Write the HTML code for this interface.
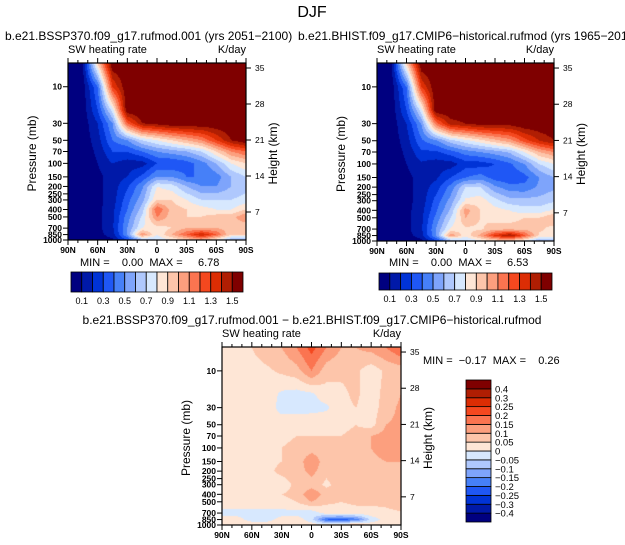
<!DOCTYPE html>
<html><head><meta charset="utf-8">
<style>
html,body{margin:0;padding:0;background:#fff;}
#root{position:relative;width:625px;height:545px;overflow:hidden;font-family:"Liberation Sans",sans-serif;}
canvas{position:absolute;}
svg{position:absolute;left:0;top:0;}
text{font-family:"Liberation Sans",sans-serif;fill:#000;}
</style></head>
<body>
<div id="root">
<canvas id="cA" width="178" height="177" style="left:68px;top:63px"></canvas>
<canvas id="cB" width="177" height="178" style="left:377px;top:63px"></canvas>
<canvas id="cD" width="179" height="178" style="left:222px;top:347px"></canvas>
<svg id="svg" width="625" height="545"></svg>
</div>
<script>
// ---- data ----
const lats = [90,75,60,45,30,15,0,-15,-30,-45,-60,-75,-90];
const levels = [5,10,20,30,50,70,100,150,200,300,400,500,700,850,1000];
const fieldFuture = [
 [0.02,0.1,0.9,1.6,1.6,1.6,1.6,1.6,1.6,1.6,1.6,1.6,1.6],
 [0.02,0.05,0.4,1.3,1.6,1.6,1.6,1.6,1.6,1.6,1.6,1.6,1.6],
 [0.02,0.04,0.3,0.75,1.6,1.6,1.6,1.6,1.6,1.6,1.6,1.6,1.6],
 [0.02,0.04,0.2,0.5,1.2,1.5,1.55,1.6,1.6,1.6,1.6,1.6,1.6],
 [0.02,0.04,0.15,0.4,0.5,0.7,0.8,0.9,1.0,1.1,1.3,1.5,1.6],
 [0.02,0.04,0.12,0.3,0.3,0.4,0.5,0.55,0.6,0.7,0.9,1.1,1.2],
 [0.02,0.04,0.1,0.2,0.15,0.15,0.3,0.3,0.35,0.45,0.6,0.8,0.9],
 [0.02,0.03,0.07,0.15,0.2,0.33,0.5,0.5,0.4,0.4,0.45,0.6,0.7],
 [0.02,0.03,0.07,0.15,0.28,0.48,0.8,0.75,0.6,0.5,0.5,0.6,0.65],
 [0.02,0.03,0.07,0.15,0.36,0.56,0.9,0.9,0.8,0.7,0.7,0.7,0.75],
 [0.02,0.03,0.07,0.17,0.4,0.65,1.2,0.95,0.9,0.85,0.8,0.8,0.9],
 [0.02,0.03,0.07,0.18,0.45,0.72,1.1,0.95,0.9,0.9,0.95,0.95,1.1],
 [0.02,0.03,0.07,0.18,0.5,0.8,0.85,0.9,1.0,1.0,1.0,0.95,0.9],
 [0.02,0.03,0.06,0.15,0.5,1.1,0.8,1.0,1.2,1.4,1.2,0.9,0.9],
 [0.02,0.03,0.04,0.08,0.3,0.6,0.7,0.8,0.9,1.0,0.8,0.6,0.6]
];
const fieldHist = [
 [0.02,0.1,0.9,1.6,1.6,1.6,1.6,1.6,1.6,1.6,1.6,1.6,1.6],
 [0.02,0.05,0.4,1.3,1.6,1.6,1.6,1.6,1.6,1.6,1.6,1.6,1.6],
 [0.02,0.04,0.3,0.75,1.6,1.6,1.6,1.6,1.6,1.6,1.6,1.6,1.6],
 [0.02,0.04,0.2,0.5,1.15,1.45,1.5,1.55,1.55,1.55,1.6,1.6,1.6],
 [0.02,0.04,0.15,0.38,0.48,0.66,0.76,0.86,0.96,1.05,1.25,1.4,1.5],
 [0.02,0.04,0.12,0.28,0.28,0.36,0.45,0.5,0.55,0.62,0.8,1.0,1.1],
 [0.02,0.04,0.1,0.18,0.15,0.15,0.25,0.25,0.3,0.38,0.5,0.7,0.8],
 [0.02,0.03,0.07,0.14,0.18,0.3,0.4,0.45,0.35,0.32,0.36,0.5,0.6],
 [0.02,0.03,0.07,0.14,0.25,0.44,0.7,0.7,0.52,0.44,0.43,0.52,0.58],
 [0.02,0.03,0.07,0.14,0.34,0.54,0.82,0.86,0.74,0.64,0.64,0.64,0.68],
 [0.02,0.03,0.07,0.16,0.38,0.62,1.05,0.9,0.84,0.8,0.74,0.74,0.82],
 [0.02,0.03,0.07,0.17,0.43,0.7,1.0,0.9,0.85,0.84,0.9,0.9,1.0],
 [0.02,0.03,0.07,0.18,0.5,0.82,0.88,0.88,0.97,0.97,0.97,0.92,0.86],
 [0.02,0.03,0.06,0.15,0.5,1.08,0.83,1.03,1.32,1.5,1.22,0.88,0.88],
 [0.02,0.03,0.04,0.07,0.27,0.57,0.67,0.77,0.86,0.9,0.77,0.57,0.59]
];
const fieldDiff = [
 [0.02,0.02,0.05,0.08,0.1,0.15,0.22,0.15,0.1,0.1,0.12,0.15,0.2],
 [0.02,0.03,0.03,0.04,0.06,0.08,0.15,0.07,0.06,0.06,0.02,0.06,0.07],
 [0.03,0.03,0.03,0.03,-0.01,-0.02,-0.01,0.03,0.04,0.06,0.02,0.07,0.1],
 [0.03,0.03,0.03,0.03,-0.02,-0.02,-0.02,-0.01,0.04,0.05,0.02,0.08,0.11],
 [0.03,0.03,0.03,0.03,0.03,0.03,0.04,0.04,0.04,0.05,0.03,0.1,0.11],
 [0.03,0.03,0.03,0.03,0.04,0.05,0.05,0.05,0.05,0.06,0.1,0.12,0.14],
 [0.03,0.03,0.03,0.04,0.05,0.06,0.07,0.07,0.07,0.08,0.1,0.12,0.12],
 [0.03,0.03,0.03,0.04,0.05,0.06,0.15,0.06,0.06,0.08,0.09,0.1,0.1],
 [0.03,0.03,0.03,0.04,0.06,0.07,0.12,0.06,0.1,0.07,0.07,0.08,0.08],
 [0.03,0.03,0.03,0.04,0.03,0.06,0.07,0.04,0.07,0.06,0.07,0.07,0.07],
 [0.03,0.03,0.03,0.04,0.05,0.06,0.15,0.07,0.06,0.06,0.07,0.07,0.08],
 [0.03,0.03,0.03,0.03,0.04,0.05,0.1,0.06,0.05,0.06,0.06,0.07,0.1],
 [-0.02,-0.02,-0.02,-0.02,-0.02,-0.02,-0.03,0.02,0.03,0.03,0.03,0.03,0.04],
 [0.02,0.02,-0.02,-0.02,0.02,0.03,-0.03,-0.2,-0.22,-0.18,-0.03,0.02,0.02],
 [0.02,0.03,0.03,0.03,0.03,0.03,0.03,0.03,0.04,0.1,0.03,0.03,0.01]
];
const absLevels = [0.1,0.2,0.3,0.4,0.5,0.6,0.7,0.8,0.9,1.0,1.1,1.2,1.3,1.4,1.5];
const absTickLabels = ["0.1","0.3","0.5","0.7","0.9","1.1","1.3","1.5"];
const diffLevels = [-0.4,-0.3,-0.25,-0.2,-0.15,-0.1,-0.05,0,0.05,0.1,0.15,0.2,0.25,0.3,0.4];
const diffTickLabels = ["-0.4","-0.3","-0.25","-0.2","-0.15","-0.1","-0.05","0","0.05","0.1","0.15","0.2","0.25","0.3","0.4"];
const pTicks = [10,30,50,70,100,150,200,250,300,400,500,700,850,1000];
const latTicks = [90,60,30,0,-30,-60,-90];
const latTickLabels = ["90N","60N","30N","0","30S","60S","90S"];
const heightTicks = [7,14,21,28,35];
const palette = ["#000080","#0019a8","#0033d6","#1f57f5","#4680f8","#7ea4fb","#afc8fd","#d7e8fe",
 "#fee6d6","#fdc5aa","#fc9f7e","#fb7450","#f5481f","#dc2d04","#b01e03","#7f0000"];

// ---- scales ----
const P_TOP = 4.9, P_BOT = 1000;
function yFrac(p){return (Math.log10(p)-Math.log10(P_TOP))/(Math.log10(P_BOT)-Math.log10(P_TOP));}
function xFrac(lat){return (90-lat)/180;}
function colorIdx(v,lv){let i=0;while(i<lv.length&&v>=lv[i])i++;return i;}
function sample(grid,lat,p){
  let fx=(90-lat)/15; let i0=Math.min(Math.floor(fx),lats.length-2); let tx=fx-i0;
  const lp=Math.log10(p); let j0=0;
  if(p<=levels[0]){j0=0;} else {while(j0<levels.length-2&&p>levels[j0+1])j0++;}
  let ty=(lp-Math.log10(levels[j0]))/(Math.log10(levels[j0+1])-Math.log10(levels[j0]));
  ty=Math.max(0,Math.min(1,ty));
  const a=grid[j0][i0],b=grid[j0][i0+1],c=grid[j0+1][i0],d=grid[j0+1][i0+1];
  return (a*(1-tx)+b*tx)*(1-ty)+(c*(1-tx)+d*tx)*ty;
}
function hex(h){return [parseInt(h.slice(1,3),16),parseInt(h.slice(3,5),16),parseInt(h.slice(5,7),16)];}
const palRGB=palette.map(hex);
function drawField(id,grid,lv){
  const cv=document.getElementById(id),ctx=cv.getContext('2d');
  const W=cv.width,H=cv.height,img=ctx.createImageData(W,H);
  for(let y=0;y<H;y++){
    const f=(y+0.5)/H; const p=Math.pow(10,Math.log10(P_TOP)+f*(Math.log10(P_BOT)-Math.log10(P_TOP)));
    for(let x=0;x<W;x++){
      const lat=90-180*(x+0.5)/W; const v=sample(grid,lat,p);
      const c=palRGB[colorIdx(v,lv)]; const k=4*(y*W+x);
      img.data[k]=c[0];img.data[k+1]=c[1];img.data[k+2]=c[2];img.data[k+3]=255;
    }
  }
  ctx.putImageData(img,0,0);
}
drawField('cA',fieldFuture,absLevels);
drawField('cB',fieldHist,absLevels);
drawField('cD',fieldDiff,diffLevels);

// ---- svg overlay ----
const svg=document.getElementById('svg');const NS="http://www.w3.org/2000/svg";
function el(tag,attrs,parent){const e=document.createElementNS(NS,tag);for(const k in attrs)e.setAttribute(k,attrs[k]);(parent||svg).appendChild(e);return e;}
function txt(x,y,s,size,anchor,parent,extra){const t=el('text',Object.assign({x:x,y:y,'font-size':size,'text-anchor':anchor||'start'},extra||{}),parent);t.textContent=s;return t;}

function axes(x0,y0,W,H,name){
  const g=el('g',{});
  
  
  el('rect',{x:x0,y:y0,width:W,height:H,fill:'none',stroke:'#000','stroke-width':1.2},g);
  for(let lat=90;lat>=-90;lat-=10){
    const x=x0+xFrac(lat)*W; const major=(lat%30===0);const L=major?5:3;
    el('line',{x1:x,y1:y0+H,x2:x,y2:y0+H+L,stroke:'#000','stroke-width':1},g);
    el('line',{x1:x,y1:y0,x2:x,y2:y0-L,stroke:'#000','stroke-width':1},g);
  }
  latTicks.forEach((lat,i)=>{
    const t=txt(x0+xFrac(lat)*W,y0+H+13,latTickLabels[i],8.5,'middle',g,{'font-weight':'bold'});
    
    
  });
  pTicks.forEach(p=>{
    const y=y0+yFrac(p)*H;
    el('line',{x1:x0,y1:y,x2:x0-5,y2:y,stroke:'#000','stroke-width':1},g);
    const t=txt(x0-6,y+3,String(p),8.5,'end',g,{'font-weight':'bold'});
    
    
  });
  heightTicks.forEach(z=>{
    const y=y0+H-(28+36*(z/7-1))*H/177;
    el('line',{x1:x0+W,y1:y,x2:x0+W+5,y2:y,stroke:'#000','stroke-width':1},g);
    const t=txt(x0+W+9,y+3,String(z),8.5,'start',g);
    
    
  });
  const ya=txt(0,0,'Pressure (mb)',12,'middle',g,{transform:`translate(${x0-32},${y0+H/2+2}) rotate(-90)`});
  
  
  const yb=txt(0,0,'Height (km)',12,'middle',g,{transform:`translate(${x0+W+31},${y0+H/2+2}) rotate(-90)`});
  
  
  const s1=txt(x0,y0-10,'SW heating rate',11,'start',g);
  
  
  const s2=txt(x0+W,y0-10,'K/day',11,'end',g);
  
  
}
axes(68,63,178,177,'panel-future-axes');
axes(377,63,177,178,'panel-historical-axes');
axes(222,347,179,178,'panel-difference-axes');

function hbar(x0,y0,W,H,name){
  const g=el('g',{});
  
  
  const n=palette.length,bw=W/n;
  palette.forEach((c,i)=>{
    const r=el('rect',{x:x0+i*bw,y:y0,width:bw,height:H,fill:c,stroke:'#000','stroke-width':0.8},g);
    
    
  });
  absTickLabels.forEach((s,k)=>{
    const t=txt(x0+(1+2*k)*bw,y0+H+12,s,9,'middle',g);
    
    
  });
}
hbar(71,272,172,20,'colorbar-future');
hbar(379,273,173,17,'colorbar-historical');

(function(){
  const x0=466,y0=380,W=25,H=142;const g=el('g',{});
  
  
  const n=palette.length,bh=H/n;
  palette.forEach((c,i)=>{
    const r=el('rect',{x:x0,y:y0+(n-1-i)*bh,width:W,height:bh,fill:c,stroke:'#000','stroke-width':0.8},g);
    
    
  });
  diffTickLabels.forEach((s,k)=>{
    const t=txt(x0+W+4,y0+(n-1-k)*bh+3.5,s.replace('-','\u2212'),9.5,'start',g);
    
    
  });
})();
</script>
<svg width="625" height="545" style="position:absolute;left:0;top:0;pointer-events:none">
<text x="312" y="17" font-size="16" text-anchor="middle" fill="#333">DJF</text>
<text x="5" y="40" font-size="12">b.e21.BSSP370.f09_g17.rufmod.001 (yrs 2051−2100)</text>
<text x="298" y="40" font-size="12">b.e21.BHIST.f09_g17.CMIP6−historical.rufmod (yrs 1965−2014)</text>
<text x="80" y="266" font-size="11" xml:space="preserve">MIN =    0.00  MAX =     6.78</text>
<text x="389" y="266" font-size="11" xml:space="preserve">MIN =    0.00  MAX =     6.53</text>
<text x="312" y="324" font-size="12" text-anchor="middle">b.e21.BSSP370.f09_g17.rufmod.001 − b.e21.BHIST.f09_g17.CMIP6−historical.rufmod</text>
<text x="423" y="364" font-size="11" xml:space="preserve">MIN =  −0.17  MAX =    0.26</text>
</svg>
</body></html>
